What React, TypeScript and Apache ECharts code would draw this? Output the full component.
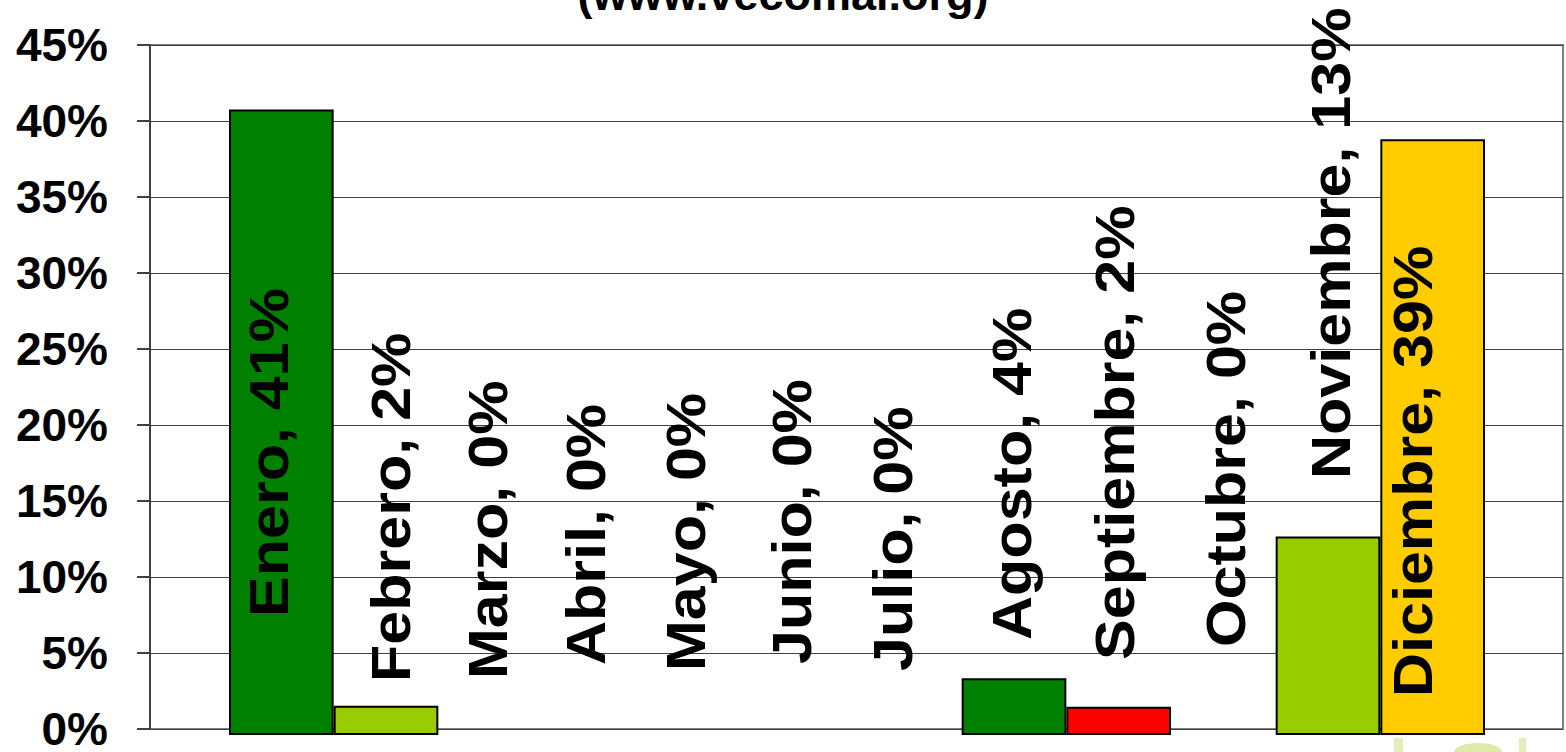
import React, { useEffect, useRef } from "react";
import * as echarts from "echarts";

// ---- data ----
const months = [
  "Enero", "Febrero", "Marzo", "Abril", "Mayo", "Junio",
  "Julio", "Agosto", "Septiembre", "Octubre", "Noviembre", "Diciembre",
];
const shares = [40.8, 1.9, 0, 0, 0, 0, 0, 3.7, 1.85, 0, 12.95, 38.85];
const barColors = [
  "#008000", "#99CC00", "#008000", "#008000", "#008000", "#008000",
  "#008000", "#008000", "#FF0000", "#008000", "#99CC00", "#FFCC00",
];
const yMin = 0;
const yMax = 45;
const yStep = 5;
const subtitle = "(www.vecomal.org)";

// ---- label placement (style, px) ----
const labelLift = [118, 53, 56, 70, 64, 71, 64, 95, 75, 88, 256, 38];
const labelShift = [-13, 4, -3, -10, -15, -13, -17, -3, -4, 2, 2, -20];

const FONT = '"Liberation Sans", Arial, sans-serif';

export default function App() {
  const ref = useRef<HTMLDivElement>(null);

  useEffect(() => {
    if (!ref.current) return;
    const chart = echarts.init(ref.current, null, { renderer: "svg" });
    const option: any = {
      animation: false,
      backgroundColor: "#ffffff",
      grid: [
        {
          left: 150, right: 3, top: 45, bottom: 17,
          show: true, borderColor: "#808080", borderWidth: 2,
          backgroundColor: "transparent",
        },
        { left: 229, right: 81, top: 45, bottom: 17 },
      ],
      xAxis: [
        {
          gridIndex: 0, type: "value", min: 0, max: 1, show: false,
        },
        {
          gridIndex: 1, type: "category", data: months, boundaryGap: true,
          axisLine: { show: false }, axisTick: { show: false },
          axisLabel: { show: false }, splitLine: { show: false },
        },
      ],
      yAxis: [
        {
          gridIndex: 0, type: "value", min: yMin, max: yMax, interval: yStep,
          axisLine: { show: true, lineStyle: { color: "#404040", width: 2 } },
          axisTick: { show: true, inside: false, length: 13, lineStyle: { color: "#404040", width: 2 } },
          splitLine: { show: true, lineStyle: { color: "#404040", width: 1.2 } },
          axisLabel: {
            formatter: "{value}%", margin: 42, color: "#000",
            fontSize: 46, fontWeight: "bold", fontFamily: FONT,
          },
        },
        {
          gridIndex: 1, type: "value", min: yMin, max: yMax, interval: yStep,
          show: false, splitLine: { show: false },
        },
      ],
      series: [
        {
          type: "bar",
          xAxisIndex: 1, yAxisIndex: 1,
          barWidth: "100%",
          barCategoryGap: "0%",
          z: 2,
          data: shares.map((v, i) => ({
            value: v,
            itemStyle: {
              color: barColors[i],
              borderColor: "#000",
              borderWidth: v > 0 ? 2 : 0,
            },
          })),
        },
        {
          type: "custom",
          xAxisIndex: 1, yAxisIndex: 1,
          z: 5,
          clip: false,
          data: shares.map((v, i) => [i, v]),
          encode: { x: 0, y: 1 },
          renderItem: (params: any, api: any) => {
            const i = params.dataIndex;
            const base = api.coord([api.value(0), 0]);
            return {
              type: "text",
              x: base[0] + labelShift[i],
              y: base[1] - labelLift[i],
              rotation: Math.PI / 2,
              scaleX: 1.09,
              style: {
                text: `${months[i]}, ${Math.round(shares[i])}%`,
                fill: "#000",
                fontSize: 56,
                fontWeight: "bold",
                fontFamily: FONT,
                align: "left",
                verticalAlign: "middle",
              },
            };
          },
        },
      ],
      graphic: [
        {
          type: "text",
          left: "center",
          x: 796, y: 17,
          style: {
            text: subtitle,
            fill: "#000",
            fontSize: 45,
            fontWeight: "bold",
            fontFamily: FONT,
            align: "center",
            verticalAlign: "bottom",
          },
          z: 10,
        },
        { type: "rect", shape: { x: 1394, y: 738, width: 9, height: 14 }, style: { fill: "#e6eeb8" }, z: -1 },
        { type: "rect", shape: { x: 1519, y: 738, width: 7, height: 14 }, style: { fill: "#e6eeb8" }, z: -1 },
        { type: "ellipse", shape: { cx: 1478, cy: 752, rx: 24, ry: 9 }, style: { fill: "#dfe9a8" }, z: -1 },
      ],
    };
    chart.setOption(option);
    return () => chart.dispose();
  }, []);

  return (
    <div
      ref={ref}
      style={{ position: "absolute", left: 0, top: 0, width: 1566, height: 752 }}
    />
  );
}
